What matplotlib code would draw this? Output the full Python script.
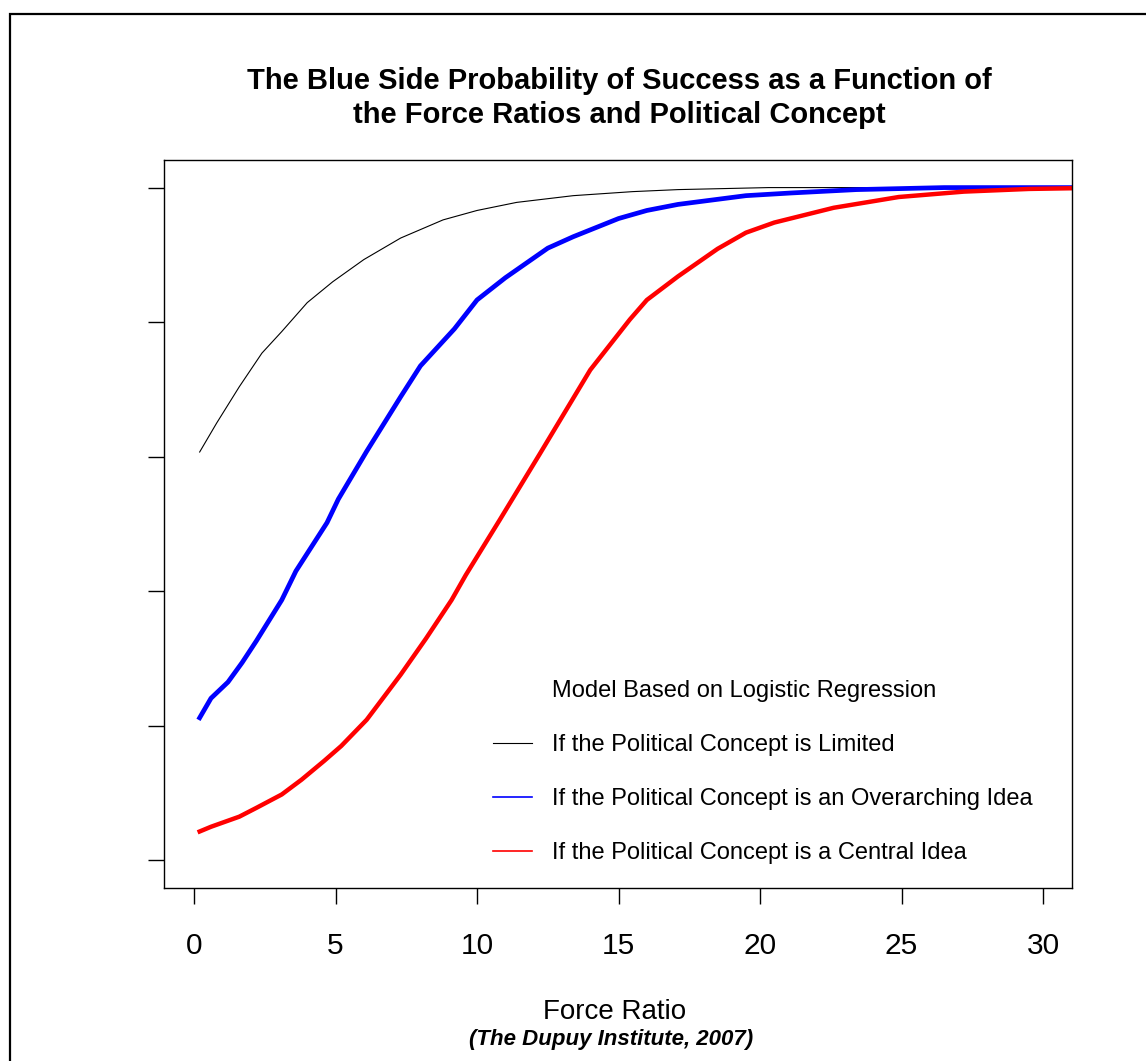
import matplotlib
matplotlib.use("Agg")
import matplotlib.pyplot as plt
from matplotlib.lines import Line2D
from matplotlib.patches import Rectangle

plt.rcParams['font.family'] = ['Liberation Sans', 'DejaVu Sans']

# DATA
# political concept is limited
limited_x = [0.2, 0.8, 1.6, 2.4, 3.1, 4.0, 4.9, 6.0, 7.3, 8.8, 10.0, 11.4,
             13.4, 15.5, 17.1, 20.3, 31.0]
limited_y = [0.607, 0.650, 0.704, 0.754, 0.786, 0.829, 0.860, 0.893, 0.925,
             0.952, 0.966, 0.978, 0.988, 0.994, 0.997, 1.0, 1.0]

# political concept is an overarching idea
overarching_x = [0.2, 0.6, 1.2, 1.7, 2.2, 3.1, 3.6, 4.7, 5.1, 6.1, 7.3, 8.0,
                 9.2, 10.0, 11.0, 12.5, 13.4, 15.0, 16.0, 17.1, 19.5, 21.1,
                 23.4, 26.5, 31.0]
overarching_y = [0.212, 0.241, 0.265, 0.294, 0.326, 0.387, 0.430, 0.502, 0.537,
                 0.608, 0.689, 0.735, 0.790, 0.833, 0.866, 0.910, 0.927, 0.954,
                 0.966, 0.975, 0.988, 0.992, 0.997, 1.0, 1.0]

# political concept is a central idea
central_x = [0.2, 0.6, 1.6, 2.2, 3.1, 3.8, 4.6, 5.2, 6.1, 7.3, 8.2, 9.1, 9.6,
             10.8, 12.2, 14.0, 15.4, 16.0, 17.1, 18.5, 19.5, 20.5, 22.6, 24.9,
             27.2, 29.5, 31.0]
central_y = [0.043, 0.050, 0.065, 0.078, 0.098, 0.120, 0.148, 0.170, 0.209,
             0.276, 0.330, 0.387, 0.424, 0.506, 0.603, 0.729, 0.804, 0.833,
             0.868, 0.909, 0.933, 0.948, 0.970, 0.986, 0.994, 0.998, 0.999]

x_ticks = [0, 5, 10, 15, 20, 25, 30]
y_ticks = [0.0, 0.2, 0.4, 0.6, 0.8, 1.0]

legend_header = "Model Based on Logistic Regression"
legend_labels = ["If the Political Concept is Limited",
                 "If the Political Concept is an Overarching Idea",
                 "If the Political Concept is a Central Idea"]

W, H = 1146, 1061
fig = plt.figure(figsize=(W / 100, H / 100), dpi=100)
ax = fig.add_axes([164 / W, 1 - 888 / H, 908 / W, 728 / H])

ax.plot(limited_x, limited_y, color='black', lw=0.8)
ax.plot(overarching_x, overarching_y, color='#0000ff', lw=3.4)
ax.plot(central_x, central_y, color='#ff0000', lw=3.2)

ax.set_xlim(-1.06, 31.02)
ax.set_ylim(-0.041, 1.041)
ax.set_xticks(x_ticks)
ax.set_yticks(y_ticks)
ax.set_yticklabels([])
ax.tick_params(axis='both', direction='out', length=11.5, width=1.0,
               color='black')
ax.tick_params(axis='x', labelsize=21.5, pad=20)
for s in ax.spines.values():
    s.set_linewidth(1.0)

# legend: header row has no line, the rest use thin lines
handles = [Line2D([], [], color='none'),
           Line2D([], [], color='black', lw=0.8),
           Line2D([], [], color='#0000ff', lw=1.2),
           Line2D([], [], color='#ff0000', lw=1.2)]
ax.legend(handles, [legend_header] + legend_labels, loc='upper left',
          bbox_to_anchor=(493 / W, 1 - 680 / H), bbox_transform=fig.transFigure,
          frameon=False, fontsize=17, handlelength=1.65, handletextpad=0.85,
          labelspacing=1.36, borderpad=0, borderaxespad=0)

fig.text(619 / W, 1 - 98 / H,
         "The Blue Side Probability of Success as a Function of\n"
         "the Force Ratios and Political Concept",
         ha='center', va='center', fontsize=21, fontweight='bold',
         linespacing=1.25)
fig.text(615 / W, 1 - 1012 / H, "Force Ratio", ha='center', va='center',
         fontsize=20)
fig.text(611 / W, 1 - 1040 / H, "(The Dupuy Institute, 2007)", ha='center',
         va='center', fontsize=16, fontweight='bold', fontstyle='italic')

# outer frame, runs off the right and bottom edges
fig.add_artist(Rectangle((10 / W, -0.1), 1.2, 1.1 - 14 / H, fill=False,
                         lw=1.6, edgecolor='black',
                         transform=fig.transFigure, clip_on=False))

plt.savefig('out.png', dpi=100)
